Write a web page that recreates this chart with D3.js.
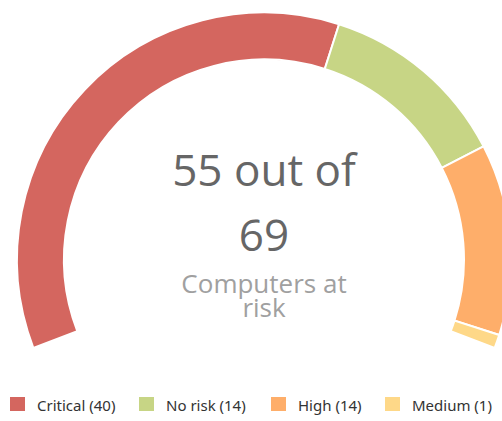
<!DOCTYPE html>
<html>
<head>
<meta charset="utf-8">
<script src="https://cdn.jsdelivr.net/npm/d3@7"></script>
<style>
  html, body { margin: 0; padding: 0; background: #fff; }
  svg { display: block; }
</style>
</head>
<body>
<svg id="chart" width="502" height="421"></svg>
<script>
const categories = ["Critical", "No risk", "High", "Medium"];
const values = [40, 14, 14, 1];
const colors = ["#d4665f", "#c7d585", "#feae6a", "#fed888"];
const atRisk = 55;
const total = 69;
const subtitleLines = ["Computers at", "risk"];

const svg = d3.select("#chart");
const cx = 264, cy = 259.5;
const outerR = 247, innerR = 200;
const deg = Math.PI / 180;

const pie = d3.pie().sort(null).value(d => d)
  .startAngle(-111 * deg).endAngle(111 * deg);
const arc = d3.arc().innerRadius(innerR).outerRadius(outerR);

const g = svg.append("g").attr("transform", `translate(${cx},${cy})`);
g.selectAll("path").data(pie(values)).join("path")
  .attr("d", arc)
  .attr("fill", (d, i) => colors[i])
  .attr("stroke", "#fff")
  .attr("stroke-width", 2);

const font = "'Open Sans', sans-serif";
g.append("text").attr("x", 0).attr("y", 186 - cy)
  .attr("text-anchor", "middle").attr("font-family", font)
  .attr("font-size", 44).attr("fill", "#666")
  .text(`${atRisk} out of`);
g.append("text").attr("x", 0).attr("y", 251 - cy)
  .attr("text-anchor", "middle").attr("font-family", font)
  .attr("font-size", 44).attr("fill", "#666")
  .text(`${total}`);
subtitleLines.forEach((t, i) => {
  g.append("text").attr("x", 0).attr("y", 293 - cy + i * 24)
    .attr("text-anchor", "middle").attr("font-family", font)
    .attr("font-size", 26).attr("fill", "#a0a0a0")
    .text(t);
});

// legend
const legendX = [10, 139, 271, 385];
const lg = svg.append("g");
categories.forEach((c, i) => {
  const item = lg.append("g").attr("transform", `translate(${legendX[i]},397)`);
  item.append("rect").attr("width", 15).attr("height", 14).attr("fill", colors[i]);
  item.append("text").attr("x", 27).attr("y", 14)
    .attr("font-family", "'Noto Sans', sans-serif").attr("font-size", 15)
    .attr("fill", "#333")
    .text(`${c} (${values[i]})`);
});
</script>
</body>
</html>
